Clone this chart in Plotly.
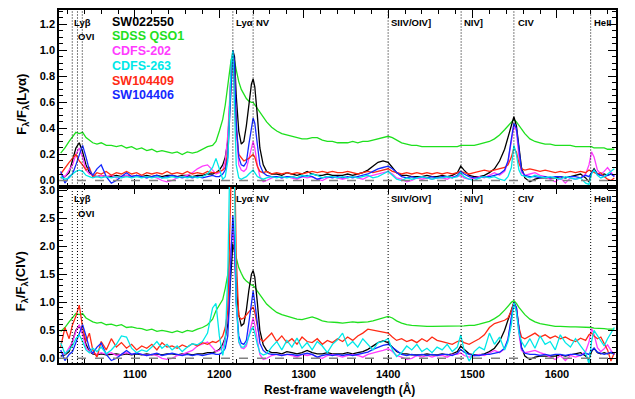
import plotly.graph_objects as go
from plotly.subplots import make_subplots

# Rest-frame wavelength grid (Angstrom)
wave = [1012,1017,1022,1026,1030,1034,1038,1042,1046,1050,
        1055,1060,1066,1072,1078,1084,1090,1096,1102,1108,
        1114,1120,1126,1132,1138,1144,1150,1156,1162,1168,
        1174,1180,1186,1192,1196,1200,1204,1207,1210,1212,
        1214,1216,1218,1220,1223,1226,1229,1232,1235,1238,
        1240,1242,1245,1248,1252,1256,1262,1268,1274,1280,
        1286,1292,1298,1304,1310,1316,1322,1328,1334,1340,
        1346,1352,1358,1364,1370,1376,1382,1388,1394,1400,
        1405,1410,1416,1422,1428,1434,1440,1446,1452,1458,
        1464,1470,1476,1482,1486,1490,1496,1502,1508,1514,
        1520,1526,1532,1538,1542,1546,1549,1552,1555,1558,
        1562,1568,1574,1580,1586,1592,1598,1604,1610,1616,
        1622,1628,1634,1638,1641,1644,1648,1652,1656,1660,
        1664,1668]

names = ["SW022550", "SDSS QSO1", "CDFS-202", "CDFS-263", "SW104409", "SW104406"]
colors = ["#000000", "#1ee01e", "#ff3cff", "#00e8e8", "#ff2a14", "#1428ff"]

# ---- Top panel: F_lambda / F_lambda(Lya) ----
top_sw022550 = [0.02,0.03,0.06,0.15,0.25,0.29,0.22,0.12,0.06,0.04,
    0.03,0.04,0.03,0.03,0.04,0.03,0.04,0.03,0.04,0.03,
    0.04,0.03,0.04,0.03,0.04,0.04,0.03,0.04,0.04,0.03,
    0.04,0.04,0.05,0.05,0.06,0.08,0.12,0.18,0.30,0.55,
    0.85,1.00,0.95,0.65,0.38,0.28,0.30,0.42,0.60,0.74,
    0.78,0.72,0.50,0.25,0.12,0.07,0.05,0.05,0.04,0.06,
    0.05,0.04,0.05,0.07,0.05,0.04,0.04,0.05,0.04,0.04,
    0.04,0.05,0.04,0.05,0.06,0.08,0.11,0.14,0.15,0.14,
    0.10,0.06,0.04,0.04,0.03,0.03,0.03,0.04,0.03,0.03,
    0.04,0.03,0.04,0.06,0.11,0.08,0.04,0.03,0.03,0.04,
    0.06,0.09,0.15,0.24,0.33,0.44,0.49,0.42,0.25,0.10,
    0.02,-0.01,0.01,0.02,0.02,0.02,0.02,0.03,0.02,0.03,
    0.04,0.05,0.02,-0.01,0.06,0.09,0.05,0.04,0.05,0.04,
    0.05,0.04]
top_sdss = [0.21,0.25,0.30,0.34,0.37,0.36,0.37,0.33,0.31,0.29,
    0.28,0.29,0.27,0.27,0.26,0.27,0.25,0.26,0.24,0.25,
    0.23,0.24,0.22,0.23,0.22,0.21,0.22,0.20,0.22,0.21,
    0.22,0.24,0.26,0.27,0.30,0.38,0.47,0.58,0.72,0.84,
    0.93,0.96,0.92,0.85,0.76,0.70,0.66,0.63,0.61,0.60,
    0.60,0.58,0.56,0.53,0.49,0.45,0.41,0.38,0.36,0.35,
    0.34,0.33,0.32,0.32,0.33,0.33,0.31,0.30,0.30,0.29,
    0.29,0.29,0.30,0.29,0.30,0.30,0.31,0.32,0.33,0.34,
    0.33,0.31,0.29,0.28,0.27,0.27,0.26,0.26,0.26,0.26,
    0.26,0.26,0.26,0.26,0.27,0.27,0.27,0.27,0.28,0.29,
    0.30,0.32,0.35,0.39,0.42,0.45,0.47,0.45,0.42,0.39,
    0.36,0.32,0.30,0.29,0.28,0.28,0.27,0.27,0.27,0.27,
    0.26,0.26,0.26,0.26,0.26,0.25,0.25,0.25,0.25,0.24,
    0.24,0.24]
top_cdfs202 = [0.05,0.03,0.08,0.12,0.20,0.25,0.18,0.08,0.05,0.04,
    0.03,0.04,0.03,0.04,0.02,0.03,0.04,0.03,0.04,0.03,
    0.02,0.03,0.02,0.00,-0.01,0.00,0.02,0.03,0.04,0.06,
    0.09,0.11,0.12,0.08,0.05,0.06,0.08,0.15,0.35,0.60,
    0.85,0.98,0.80,0.40,0.12,0.08,0.07,0.09,0.17,0.27,
    0.30,0.25,0.12,0.03,-0.01,0.00,0.02,0.03,0.02,0.03,
    0.02,0.01,0.03,0.02,0.03,0.01,0.00,0.02,0.03,0.02,
    0.01,0.02,0.03,0.02,0.01,0.03,0.04,0.05,0.06,0.07,
    0.05,0.02,0.01,-0.01,0.00,0.02,0.01,0.02,0.01,0.02,
    0.02,0.01,0.03,0.03,0.04,0.02,0.01,0.02,0.03,0.02,
    0.04,0.06,0.04,0.07,0.14,0.32,0.42,0.38,0.18,0.06,
    0.04,0.05,0.06,0.04,0.03,0.01,-0.01,0.02,-0.02,0.02,
    0.01,0.02,0.05,0.12,0.22,0.18,0.08,0.05,0.07,0.10,
    0.06,0.03]
top_cdfs263 = [0.03,0.01,0.02,0.05,0.07,0.08,0.07,0.04,0.03,0.02,
    0.03,0.02,0.03,0.02,0.03,0.02,0.03,0.02,0.03,0.02,
    0.03,0.02,0.03,0.02,0.02,0.03,0.02,0.03,0.02,0.03,
    0.02,0.03,0.05,0.10,0.17,0.08,0.01,0.03,0.15,0.50,
    0.90,1.00,0.60,0.12,0.02,0.01,0.02,0.03,0.05,0.07,
    0.08,0.06,0.03,0.02,0.01,0.02,0.03,0.02,0.03,0.02,
    0.03,0.02,0.04,0.03,0.05,0.04,0.02,0.03,0.03,0.02,
    0.03,0.02,0.03,0.02,0.03,0.04,0.02,0.03,0.05,0.07,
    0.04,0.01,0.00,0.02,0.01,0.02,0.03,0.02,0.01,0.02,
    0.02,0.03,0.02,0.03,0.06,0.03,0.01,0.00,0.02,0.03,
    0.02,0.03,0.01,0.00,0.03,0.10,0.27,0.20,0.08,0.04,
    0.03,0.02,0.04,0.03,0.02,0.03,0.02,0.01,0.03,0.02,
    0.01,0.02,-0.02,-0.03,0.05,0.08,0.04,0.02,0.03,0.05,
    0.07,0.09]
top_sw104409 = [0.05,0.10,0.14,0.17,0.20,0.15,0.12,0.08,0.10,0.03,
    0.06,0.05,0.07,0.04,0.06,0.05,0.07,0.05,0.06,0.04,
    0.06,0.05,0.06,0.05,0.07,0.05,0.06,0.05,0.07,0.05,
    0.06,0.05,0.07,0.06,0.06,0.07,0.08,0.10,0.22,0.50,
    0.80,1.00,0.85,0.40,0.20,0.17,0.15,0.16,0.17,0.19,
    0.20,0.18,0.11,0.07,0.06,0.07,0.05,0.06,0.05,0.06,
    0.05,0.06,0.05,0.06,0.07,0.06,0.07,0.06,0.07,0.06,
    0.06,0.07,0.06,0.05,0.06,0.07,0.06,0.07,0.08,0.09,
    0.07,0.06,0.05,0.06,0.05,0.06,0.05,0.06,0.05,0.06,
    0.05,0.06,0.05,0.06,0.07,0.06,0.05,0.06,0.07,0.08,
    0.07,0.08,0.09,0.10,0.12,0.18,0.25,0.22,0.13,0.09,
    0.08,0.09,0.08,0.07,0.08,0.07,0.06,0.07,0.06,0.07,
    0.06,0.07,0.06,0.08,0.07,0.06,0.05,0.06,0.03,0.01,
    0.00,0.02]
top_sw104406 = [0.07,-0.02,0.03,0.05,0.12,0.20,0.27,0.18,0.08,0.04,
    0.09,0.12,0.03,-0.02,0.00,0.03,0.06,0.03,0.04,0.03,
    0.02,0.03,0.04,0.02,0.03,0.04,0.03,0.02,0.03,0.02,
    0.03,0.02,0.03,0.04,0.03,0.03,0.05,0.08,0.18,0.45,
    0.80,1.00,0.90,0.45,0.18,0.12,0.11,0.14,0.28,0.42,
    0.48,0.44,0.28,0.12,0.06,0.04,0.03,0.03,0.02,0.03,
    0.03,0.02,0.03,0.04,0.03,0.01,0.02,0.03,0.02,0.03,
    0.02,0.03,0.02,0.03,0.04,0.05,0.07,0.09,0.10,0.11,
    0.09,0.06,0.03,0.02,0.03,0.02,0.03,0.02,0.03,0.02,
    0.03,0.03,0.02,0.04,0.07,0.05,0.03,0.02,0.02,0.03,
    0.03,0.04,0.05,0.08,0.15,0.32,0.44,0.40,0.22,0.08,
    0.04,0.03,0.03,0.02,0.03,0.02,0.03,0.03,0.02,0.03,
    0.03,0.02,0.04,0.03,0.06,0.08,0.05,0.04,0.03,0.04,
    0.05,0.03]

# ---- Bottom panel: F_lambda / F_lambda(CIV) ----
bot_sw022550 = [0.04,0.06,0.12,0.30,0.50,0.58,0.45,0.25,0.12,0.08,
    0.06,0.08,0.06,0.07,0.08,0.06,0.08,0.06,0.08,0.06,
    0.08,0.06,0.08,0.06,0.08,0.08,0.06,0.08,0.08,0.06,
    0.08,0.08,0.10,0.10,0.12,0.16,0.25,0.37,0.60,1.10,
    1.70,2.05,1.90,1.30,0.78,0.58,0.62,0.86,1.22,1.50,
    1.57,1.45,1.00,0.50,0.24,0.14,0.10,0.10,0.08,0.12,
    0.10,0.08,0.10,0.14,0.10,0.08,0.08,0.10,0.08,0.08,
    0.08,0.10,0.08,0.10,0.12,0.16,0.22,0.28,0.31,0.28,
    0.20,0.12,0.08,0.08,0.06,0.06,0.06,0.08,0.06,0.06,
    0.08,0.06,0.08,0.12,0.22,0.16,0.08,0.06,0.06,0.08,
    0.12,0.18,0.30,0.50,0.68,0.90,1.00,0.86,0.51,0.20,
    0.04,-0.02,0.02,0.04,0.04,0.04,0.04,0.06,0.04,0.06,
    0.08,0.10,0.04,-0.02,0.12,0.18,0.10,0.08,0.10,0.08,
    0.10,0.08]
bot_sdss = [0.48,0.55,0.65,0.72,0.80,0.78,0.80,0.72,0.68,0.65,
    0.63,0.64,0.60,0.61,0.58,0.60,0.55,0.56,0.54,0.53,
    0.50,0.52,0.48,0.50,0.48,0.46,0.49,0.46,0.50,0.48,
    0.52,0.55,0.60,0.70,0.85,0.95,1.05,1.25,1.50,1.75,
    1.95,2.05,1.95,1.80,1.62,1.52,1.43,1.38,1.34,1.31,
    1.30,1.27,1.20,1.14,1.05,0.97,0.89,0.82,0.78,0.75,
    0.72,0.70,0.69,0.72,0.74,0.71,0.67,0.65,0.65,0.64,
    0.63,0.64,0.65,0.64,0.64,0.65,0.67,0.70,0.73,0.75,
    0.72,0.67,0.63,0.60,0.59,0.58,0.57,0.57,0.57,0.57,
    0.57,0.57,0.57,0.58,0.58,0.58,0.59,0.59,0.61,0.63,
    0.66,0.71,0.77,0.86,0.93,1.00,1.03,0.98,0.91,0.85,
    0.78,0.70,0.65,0.62,0.60,0.58,0.57,0.57,0.56,0.56,
    0.56,0.56,0.56,0.56,0.55,0.54,0.54,0.53,0.53,0.52,
    0.52,0.52]
bot_cdfs202 = [0.12,0.07,0.19,0.29,0.48,0.60,0.43,0.19,0.12,0.10,
    0.07,0.10,0.07,0.10,0.05,0.07,0.10,0.07,0.10,0.07,
    0.05,0.07,0.05,0.00,-0.02,0.00,0.05,0.07,0.10,0.14,
    0.22,0.26,0.29,0.19,0.12,0.14,0.19,0.36,0.84,1.44,
    2.04,2.30,1.92,0.96,0.29,0.19,0.17,0.22,0.41,0.65,
    0.72,0.60,0.29,0.07,-0.02,0.00,0.05,0.07,0.05,0.07,
    0.05,0.02,0.07,0.05,0.07,0.02,0.00,0.05,0.07,0.05,
    0.02,0.05,0.07,0.05,0.02,0.07,0.10,0.12,0.14,0.17,
    0.12,0.05,0.02,-0.02,0.00,0.05,0.02,0.05,0.02,0.05,
    0.05,0.02,0.07,0.07,0.10,0.05,0.02,0.05,0.07,0.05,
    0.10,0.14,0.10,0.17,0.34,0.77,1.00,0.91,0.43,0.14,
    0.10,0.12,0.14,0.10,0.07,0.02,-0.02,0.05,-0.04,0.05,
    0.02,0.05,0.12,0.29,0.53,0.43,0.19,0.12,0.17,0.24,
    0.14,0.07]
bot_cdfs263 = [0.28,0.08,0.15,0.22,0.35,0.42,0.30,0.15,0.10,0.18,
    0.12,0.20,0.08,0.15,0.25,0.40,0.38,0.18,0.10,0.15,
    0.12,0.20,0.30,0.18,0.25,0.15,0.22,0.12,0.20,0.26,
    0.24,0.30,0.45,0.90,0.98,0.40,0.05,0.30,1.50,3.20,
    3.20,3.20,3.20,1.00,0.30,0.20,0.20,0.26,0.40,0.52,
    0.55,0.45,0.25,0.10,0.06,0.08,0.20,0.30,0.15,0.32,
    0.20,0.36,0.18,0.28,0.15,0.30,0.22,0.10,0.25,0.33,
    0.45,0.22,0.30,0.20,0.35,0.25,0.15,0.28,0.30,0.35,
    0.15,0.03,0.10,0.22,0.15,0.25,0.12,0.18,0.10,0.20,
    0.15,0.25,0.12,0.20,0.42,0.15,-0.05,0.12,0.20,0.15,
    0.45,0.25,0.38,0.15,0.30,0.60,1.00,0.82,0.45,0.30,
    0.20,0.35,0.18,0.40,0.25,0.30,0.15,0.42,0.28,0.20,
    0.35,0.22,0.10,-0.10,0.30,0.50,0.40,0.30,0.22,0.35,
    0.45,0.55]
bot_sw104409 = [0.20,0.55,0.35,0.60,0.75,0.95,0.55,0.30,0.45,0.15,
    0.02,0.30,0.15,0.35,0.20,0.28,0.18,0.25,0.15,0.22,
    0.18,0.25,0.15,0.28,0.20,0.22,0.18,0.24,0.20,0.26,
    0.22,0.28,0.25,0.30,0.28,0.32,0.40,0.55,0.85,2.20,
    3.50,4.50,3.80,1.80,0.75,0.70,0.72,0.78,0.82,0.88,
    0.92,0.82,0.55,0.35,0.30,0.36,0.45,0.30,0.40,0.28,
    0.35,0.25,0.38,0.30,0.28,0.35,0.25,0.32,0.28,0.35,
    0.30,0.38,0.32,0.40,0.45,0.52,0.50,0.48,0.46,0.45,
    0.38,0.32,0.35,0.30,0.33,0.28,0.35,0.30,0.38,0.32,
    0.30,0.28,0.25,0.30,0.32,0.28,0.25,0.30,0.35,0.42,
    0.55,0.62,0.65,0.68,0.72,0.85,1.00,0.90,0.55,0.38,
    0.35,0.40,0.45,0.38,0.42,0.36,0.40,0.35,0.38,0.33,
    0.30,0.36,0.32,0.42,0.45,0.40,0.35,0.38,0.25,0.15,
    -0.05,0.10]
bot_sw104406 = [0.15,-0.04,0.07,0.12,0.28,0.45,0.60,0.40,0.18,0.09,
    0.20,0.27,0.07,-0.04,0.00,0.07,0.14,0.07,0.09,0.07,
    0.05,0.07,0.09,0.05,0.07,0.09,0.07,0.05,0.07,0.05,
    0.07,0.05,0.07,0.09,0.07,0.07,0.11,0.18,0.40,1.00,
    1.90,2.55,2.10,1.00,0.40,0.27,0.25,0.32,0.64,0.95,
    1.20,1.00,0.64,0.27,0.14,0.09,0.07,0.07,0.05,0.07,
    0.07,0.05,0.07,0.09,0.07,0.02,0.05,0.07,0.05,0.07,
    0.05,0.07,0.05,0.07,0.09,0.11,0.16,0.20,0.23,0.25,
    0.20,0.14,0.07,0.05,0.07,0.05,0.07,0.05,0.07,0.05,
    0.07,0.07,0.05,0.09,0.16,0.11,0.07,0.05,0.05,0.07,
    0.07,0.09,0.11,0.18,0.34,0.73,1.00,0.91,0.50,0.18,
    0.09,0.07,0.07,0.05,0.07,0.05,0.07,0.07,0.05,0.07,
    0.07,0.05,0.09,0.07,0.14,0.18,0.11,0.09,0.07,0.09,
    0.11,0.07]

top_series = [top_sw022550, top_sdss, top_cdfs202, top_cdfs263, top_sw104409, top_sw104406]
bot_series = [bot_sw022550, bot_sdss, bot_cdfs202, bot_cdfs263, bot_sw104409, bot_sw104406]

# Emission line markers
line_waves = [1025.7, 1031.9, 1037.6, 1216.0, 1240.0, 1400.0, 1486.5, 1549.0, 1640.0]
line_labels = [("Lyβ", 1025.0, 1), ("OVI", 1030.5, 2), ("Lyα", 1217.0, 1), ("NV", 1241.5, 1),
               ("SIIV/OIV]", 1401.5, 1), ("NIV]", 1488.0, 1), ("CIV", 1551.0, 1), ("HeII", 1642.0, 1)]

fig = make_subplots(rows=2, cols=1, shared_xaxes=True, vertical_spacing=0)

draw_order = [1, 0, 2, 4, 5, 3]
for i in draw_order:
    fig.add_trace(go.Scatter(x=wave, y=top_series[i], mode="lines",
                             line=dict(color=colors[i], width=1.3), showlegend=False), row=1, col=1)
for i in draw_order:
    fig.add_trace(go.Scatter(x=wave, y=bot_series[i], mode="lines",
                             line=dict(color=colors[i], width=1.3), showlegend=False), row=2, col=1)

font_fam = "Liberation Sans, Arial, sans-serif"
shapes = []
for yr in ["y", "y2"]:
    for lw in line_waves:
        shapes.append(dict(type="line", xref="x", yref=yr + " domain", x0=lw, x1=lw, y0=0, y1=1,
                           line=dict(color="black", width=1, dash="1px,2px")))
    shapes.append(dict(type="line", xref="x domain", yref=yr, x0=0, x1=1, y0=0, y1=0,
                       line=dict(color="#808080", width=1.6, dash="dash")))

annotations = []
for yr, rows in [("y", (1.213, 1.106)), ("y2", (2.857, 2.59))]:
    for txt, xv, r in line_labels:
        annotations.append(dict(x=xv, y=rows[r - 1], xref="x", yref=yr, text=txt, showarrow=False,
                                xanchor="left", yanchor="middle",
                                font=dict(family=font_fam, size=9.5, color="black", weight="bold")))

legend_y = [1.22, 1.107, 0.994, 0.881, 0.768, 0.655]
for n, c, yv in zip(names, colors, legend_y):
    annotations.append(dict(x=1071, y=yv, xref="x", yref="y", text=n, showarrow=False,
                            xanchor="left", yanchor="middle",
                            font=dict(family=font_fam, size=12.5, color=c, weight="bold")))

annotations.append(dict(x=-0.066, y=0.465, xref="paper", yref="y domain", textangle=-90,
                        text="F<sub>λ</sub>/F<sub>λ</sub>(Lyα)", showarrow=False,
                        xanchor="center", yanchor="middle",
                        font=dict(family=font_fam, size=13, color="black", weight="bold")))
annotations.append(dict(x=-0.066, y=0.465, xref="paper", yref="y2 domain", textangle=-90,
                        text="F<sub>λ</sub>/F<sub>λ</sub>(CIV)", showarrow=False,
                        xanchor="center", yanchor="middle",
                        font=dict(family=font_fam, size=13, color="black", weight="bold")))
annotations.append(dict(x=0.503, y=-0.074, xref="paper", yref="paper",
                        text="Rest-frame wavelength (Å)", showarrow=False,
                        xanchor="center", yanchor="middle",
                        font=dict(family=font_fam, size=12, color="black", weight="bold")))

axis_common = dict(showline=True, linecolor="black", linewidth=1.6, mirror="ticks",
                   ticks="inside", ticklen=8, tickwidth=1.2, tickcolor="black",
                   showgrid=False, zeroline=False,
                   tickfont=dict(family=font_fam, size=11, color="black", weight="bold"))

fig.update_xaxes(range=[1010, 1670], tick0=1000, dtick=100,
                 minor=dict(ticks="inside", ticklen=4, dtick=20, tick0=1000, tickcolor="black", showgrid=False),
                 **axis_common)
fig.update_xaxes(showticklabels=False, row=1, col=1)
fig.update_yaxes(range=[-0.046, 1.31], tick0=0, dtick=0.2, tickformat=".1f",
                 minor=dict(ticks="inside", ticklen=4, dtick=0.05, tick0=0, tickcolor="black", showgrid=False),
                 row=1, col=1, **axis_common)
fig.update_yaxes(range=[-0.084, 3.07], tick0=0, dtick=0.5, tickformat=".1f",
                 minor=dict(ticks="inside", ticklen=4, dtick=0.1, tick0=0, tickcolor="black", showgrid=False),
                 row=2, col=1, **axis_common)

fig.update_layout(width=635, height=399, margin=dict(l=59, r=19, t=8, b=36),
                  paper_bgcolor="white", plot_bgcolor="white",
                  shapes=shapes, annotations=annotations, showlegend=False,
                  font=dict(family=font_fam, color="black"))

fig.write_html("out.html", config={"displayModeBar": False},
               post_script="document.body.style.margin='0';document.body.style.overflow='hidden';")
